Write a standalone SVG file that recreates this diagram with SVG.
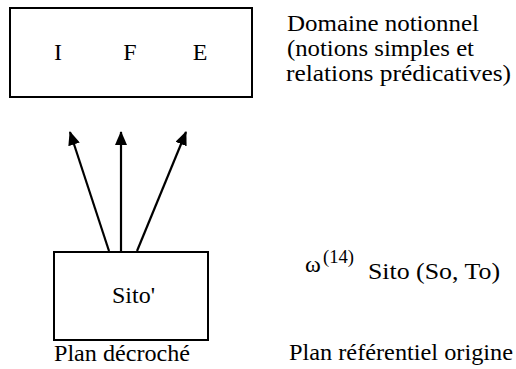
<svg xmlns="http://www.w3.org/2000/svg" width="516" height="369" viewBox="0 0 516 369">
  <defs>
    <marker id="head" markerWidth="14" markerHeight="12" refX="13" refY="6" orient="auto" markerUnits="userSpaceOnUse">
      <path d="M0,0 L14,6 L0,12 Z" fill="#000"/>
    </marker>
  </defs>
  <style>
    .box { fill: #fff; stroke: #000; stroke-width: 2; }
    .link { stroke: #000; stroke-width: 2.2; fill: none; marker-end: url(#head); }
    text { font-family: "Liberation Serif", Tinos, "Times New Roman", "DejaVu Serif", serif; font-size: 24px; fill: #000; }
    .sup { font-size: 19px; }
  </style>
  <rect width="516" height="369" fill="#fff"/>

  <!-- notional domain -->
  <g id="domaine">
    <rect class="box" x="10" y="8" width="242" height="89"/>
    <text x="58" y="60" text-anchor="middle">I</text>
    <text x="130" y="60" text-anchor="middle">F</text>
    <text x="200" y="60" text-anchor="middle">E</text>
  </g>
  <g id="domaine-label">
    <text x="287" y="31" textLength="192" lengthAdjust="spacingAndGlyphs">Domaine notionnel</text>
    <text x="287" y="56" textLength="187" lengthAdjust="spacingAndGlyphs">(notions simples et</text>
    <text x="286" y="81" textLength="225" lengthAdjust="spacingAndGlyphs">relations prédicatives)</text>
  </g>

  <!-- detached plane -->
  <g id="sito-prime">
    <rect class="box" x="54" y="252" width="154" height="88"/>
    <text x="112" y="303" textLength="43" lengthAdjust="spacingAndGlyphs">Sito'</text>
  </g>
  <g id="plan-decroche">
    <text x="54" y="361" textLength="136" lengthAdjust="spacingAndGlyphs">Plan décroché</text>
  </g>

  <!-- origin referential plane -->
  <g id="sito-origine">
    <text x="305" y="272">ω</text>
    <text class="sup" x="323" y="263" textLength="31" lengthAdjust="spacingAndGlyphs">(14)</text>
    <text x="368" y="279" textLength="132" lengthAdjust="spacingAndGlyphs">Sito (So, To)</text>
  </g>
  <g id="plan-origine">
    <text x="289" y="360" textLength="224" lengthAdjust="spacingAndGlyphs">Plan référentiel origine</text>
  </g>

  <!-- connectors -->
  <g id="connectors">
    <line class="link" x1="109" y1="251" x2="70" y2="132"/>
    <line class="link" x1="121" y1="251" x2="121" y2="132"/>
    <line class="link" x1="137" y1="251" x2="186" y2="132"/>
  </g>
</svg>
